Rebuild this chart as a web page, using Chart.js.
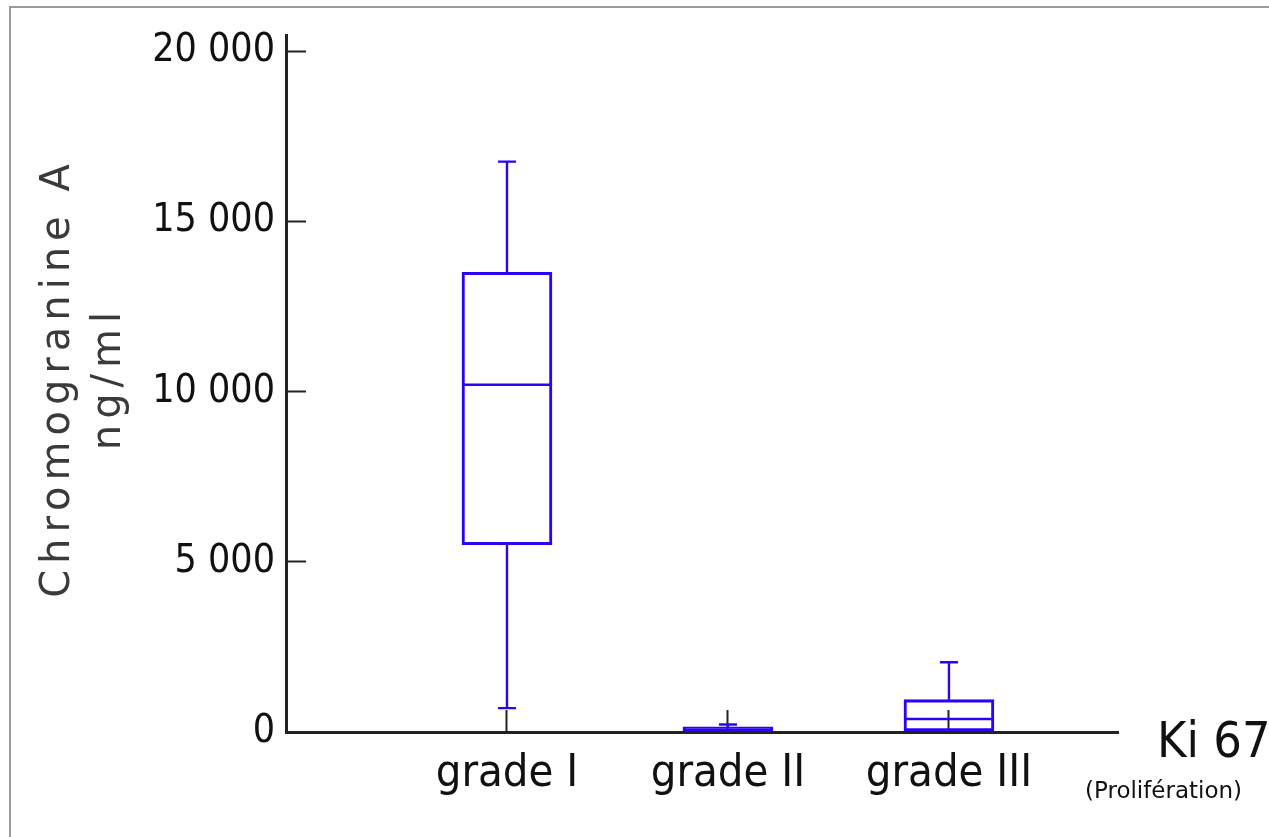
<!DOCTYPE html>
<html>
<head>
<meta charset="utf-8">
<script src="https://cdn.jsdelivr.net/npm/chart.js@4/dist/chart.umd.min.js"></script>
<style>
    html, body { margin: 0; padding: 0; background: #fff; overflow: hidden; }
    #wrap { position: relative; width: 1269px; height: 837px; }
    #frame { position: absolute; left: 9px; top: 6px; width: 1300px; height: 900px;
             border-left: 2px solid #9a9a9a; border-top: 2px solid #9a9a9a; }
    canvas { position: absolute; left: 0; top: 0; }
</style>
</head>
<body>
<div id="wrap">
    <div id="frame"></div>
    <canvas id="boxChart" width="1269" height="837"></canvas>
</div>
<script>
// Categories and their place on the x axis
const categories = ['grade I', 'grade II', 'grade III'];
const categoryPositions = [1, 2, 3];

// Box plot values (ng/ml)
const whiskerMin = [700, 0, 30];
const q1Values = [5500, 0, 30];
const medianValues = [10200, 60, 380];
const q3Values = [13500, 150, 950];
const whiskerMax = [16750, 220, 2050];

// Y axis ticks
const yTickValues = [0, 5000, 10000, 15000, 20000];
const yTickLabels = ['0', '5 000', '10 000', '15 000', '20 000'];

const BOX_COLOR = '#2a04f4';
const AXIS_COLOR = '#222222';
const NARROW = '"Liberation Sans Narrow", "DejaVu Sans Condensed", "Roboto Condensed", sans-serif';

// Whiskers, caps and medians drawn from the same scales as the boxes
const boxPlotExtras = {
    id: 'boxPlotExtras',
    afterDatasetsDraw(chart) {
        const ctx = chart.ctx;
        const x = chart.scales.x;
        const y = chart.scales.y;
        const boxHalf = 45;
        const capHalf = 9;
        ctx.save();
        ctx.strokeStyle = BOX_COLOR;
        ctx.lineWidth = 2.4;
        categoryPositions.forEach((pos, i) => {
            const cx = x.getPixelForValue(pos);
            const yMin = y.getPixelForValue(whiskerMin[i]);
            const yQ1 = y.getPixelForValue(q1Values[i]);
            const yMed = y.getPixelForValue(medianValues[i]);
            const yQ3 = y.getPixelForValue(q3Values[i]);
            const yMax = y.getPixelForValue(whiskerMax[i]);
            ctx.beginPath();
            // upper whisker and cap
            ctx.moveTo(cx, yQ3);
            ctx.lineTo(cx, yMax);
            ctx.moveTo(cx - capHalf, yMax);
            ctx.lineTo(cx + capHalf, yMax);
            // lower whisker and cap
            if (whiskerMin[i] < q1Values[i]) {
                ctx.moveTo(cx, yQ1);
                ctx.lineTo(cx, yMin);
                ctx.moveTo(cx - capHalf, yMin);
                ctx.lineTo(cx + capHalf, yMin);
            }
            // median
            ctx.moveTo(cx - boxHalf, yMed);
            ctx.lineTo(cx + boxHalf, yMed);
            ctx.stroke();
        });
        ctx.restore();
    },
    afterDraw(chart) {
        const ctx = chart.ctx;
        const area = chart.chartArea;
        ctx.save();
        // y axis title, two rotated lines
        ctx.fillStyle = '#3a3a3a';
        ctx.font = '40px "DejaVu Sans", sans-serif';
        ctx.letterSpacing = '6px';
        ctx.textAlign = 'center';
        ctx.textBaseline = 'alphabetic';
        [['Chromogranine A', 69], ['ng/ml', 120]].forEach(([text, bx]) => {
            ctx.save();
            ctx.translate(bx, 378);
            ctx.rotate(-Math.PI / 2);
            ctx.fillText(text, 0, 0);
            ctx.restore();
        });
        ctx.letterSpacing = '0px';
        // axis name at the right end of the x axis
        ctx.fillStyle = '#111111';
        ctx.textAlign = 'left';
        ctx.font = '50px ' + NARROW;
        ctx.fillText('Ki 67', area.right + 39, 757);
        ctx.font = '23px "DejaVu Sans", sans-serif';
        ctx.fillText('(Prolifération)', area.right - 33, 798);
        ctx.restore();
    }
};

// keep the axes from pushing the plot area around
function noScalePadding(scale) {
    scale.paddingTop = 0;
    scale.paddingBottom = 0;
    scale.paddingLeft = 0;
    scale.paddingRight = 0;
}

const ctx = document.getElementById('boxChart').getContext('2d');

new Chart(ctx, {
    type: 'bar',
    data: {
        datasets: [{
            data: categoryPositions.map((pos, i) => ({ x: pos, y: [q1Values[i], q3Values[i]] })),
            backgroundColor: 'rgba(0, 0, 0, 0)',
            borderColor: BOX_COLOR,
            borderWidth: 2.4,
            borderSkipped: false,
            barThickness: 90
        }]
    },
    options: {
        responsive: false,
        animation: false,
        layout: { padding: { left: 10, right: 151, top: 35, bottom: 0 } },
        plugins: {
            legend: { display: false },
            tooltip: { enabled: false }
        },
        scales: {
            x: {
                type: 'linear',
                min: 0,
                max: 3.765,
                offset: false,
                z: 1,
                afterBuildTicks: scale => {
                    scale.ticks = categoryPositions.map(v => ({ value: v }));
                },
                afterFit: scale => {
                    scale.height = 105;
                    noScalePadding(scale);
                },
                border: { display: true, color: AXIS_COLOR, width: 3 },
                grid: {
                    offset: false,
                    drawOnChartArea: false,
                    drawTicks: true,
                    tickLength: -22,
                    tickColor: AXIS_COLOR,
                    tickWidth: 2
                },
                ticks: {
                    autoSkip: false,
                    maxRotation: 0,
                    padding: 51,
                    color: '#111111',
                    font: { family: NARROW, size: 45, lineHeight: 0.6 },
                    callback: (value, index) => categories[index]
                }
            },
            y: {
                min: 0,
                max: 20470,
                afterBuildTicks: scale => {
                    scale.ticks = yTickValues.map(v => ({ value: v }));
                },
                afterFit: scale => {
                    scale.width = 276;
                    noScalePadding(scale);
                },
                border: { display: true, color: AXIS_COLOR, width: 3 },
                grid: {
                    drawOnChartArea: false,
                    drawTicks: true,
                    tickLength: -20,
                    tickColor: AXIS_COLOR,
                    tickWidth: 2
                },
                ticks: {
                    padding: 31,
                    color: '#111111',
                    font: { family: NARROW, size: 39, lineHeight: 0.6 },
                    callback: (value, index) => yTickLabels[index]
                }
            }
        }
    },
    plugins: [boxPlotExtras]
});
</script>
</body>
</html>
